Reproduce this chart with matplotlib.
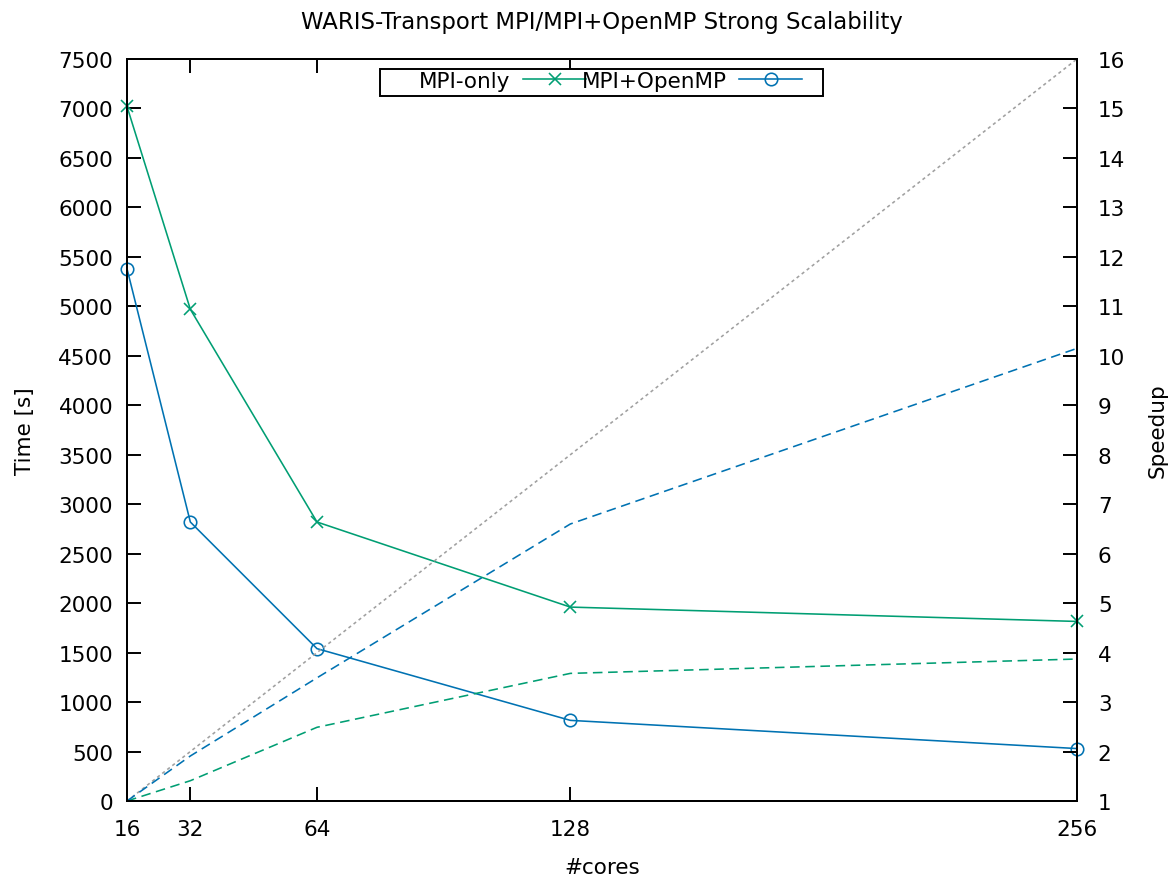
import matplotlib
matplotlib.use("Agg")
import matplotlib.pyplot as plt
from matplotlib.patches import Rectangle

cores = [16, 32, 64, 128, 256]
time_mpi = [7020, 4970, 2820, 1960, 1815]
time_hybrid = [5380, 2820, 1540, 815, 530]
speedup_mpi = [1, 1.41, 2.49, 3.58, 3.87]
speedup_hybrid = [1, 1.91, 3.49, 6.60, 10.15]
ideal_cores = [16, 256]
ideal_speedup = [1, 16]

green = "#009e73"
blue = "#0072b2"

plt.rcParams["font.family"] = "DejaVu Sans"
plt.rcParams["font.size"] = 15.5

W, H = 1173, 879
fig = plt.figure(figsize=(W/100, H/100), dpi=100)
ax = fig.add_axes([127/W, 77/H, 950/W, 742/H])
ax2 = ax.twinx()

lw = 1.15
ax.plot(cores, time_mpi, color=green, lw=lw, marker="x", ms=9, mew=lw,
        label="MPI-only", clip_on=False, zorder=4)
ax.plot(cores, time_hybrid, color=blue, lw=lw, marker="o", ms=9, mfc="none", mew=lw,
        label="MPI+OpenMP", clip_on=False, zorder=4)

ax2.plot(ideal_cores, ideal_speedup, color="#a0a0a0", lw=lw, ls=(0, (2, 2)))
ax2.plot(cores, speedup_mpi, color=green, lw=lw, ls=(0, (6, 3.5)))
ax2.plot(cores, speedup_hybrid, color=blue, lw=lw, ls=(0, (6, 3.5)))

ax.set_xlim(16, 256)
ax.set_ylim(0, 7500)
ax2.set_ylim(1, 16)
ax.set_xticks(cores)
ax.set_yticks(range(0, 7501, 500))
ax2.set_yticks(range(1, 17))

for a in (ax, ax2):
    for s in a.spines.values():
        s.set_linewidth(1.4)
ax.tick_params(axis="x", direction="in", length=10, width=1.4, top=True, pad=13)
ax.tick_params(axis="y", direction="in", length=10, width=1.4, pad=10)
ax2.tick_params(axis="y", direction="in", length=10, width=1.4, pad=15)

ax.set_xlabel("#cores", labelpad=13)
ax.set_ylabel("Time [s]", labelpad=17)
ax2.set_ylabel("Speedup", labelpad=16)
ax.set_title("WARIS-Transport MPI/MPI+OpenMP Strong Scalability", pad=22, fontsize=16.4)

leg = fig.legend(*ax.get_legend_handles_labels(), loc="upper left",
                 bbox_to_anchor=(419/W, 1 - 72/H), ncol=2, markerfirst=False,
                 frameon=False, handlelength=2.9, borderpad=0, borderaxespad=0,
                 columnspacing=-0.2, handletextpad=0.6)
fig.patches.append(Rectangle((380/W, 1 - 97/H), 443/W, 27/H, transform=fig.transFigure,
                             facecolor="white", edgecolor="black", lw=1.4, zorder=2))
leg.set_zorder(3)

fig.savefig("out.png", dpi=100)
